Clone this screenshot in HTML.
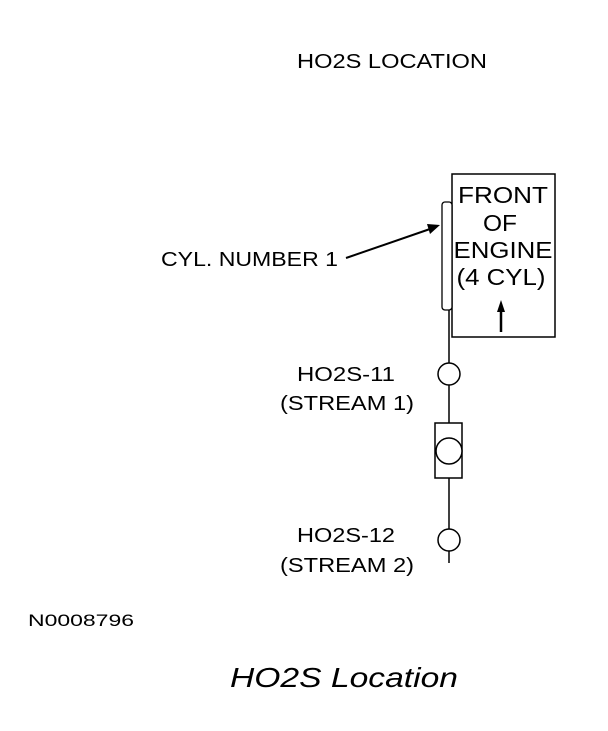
<!DOCTYPE html>
<html><head><style>
body{margin:0;background:#fff;width:608px;height:726px;overflow:hidden}
svg text{font-family:"Liberation Sans",sans-serif;fill:#000}
</style></head><body>
<svg width="608" height="726" viewBox="0 0 608 726">
<text x="297" y="68" font-size="20" textLength="190" lengthAdjust="spacingAndGlyphs">HO2S LOCATION</text>
<rect x="452" y="174" width="103" height="163" fill="none" stroke="#000" stroke-width="1.5"/>
<text x="503" y="203" font-size="23" text-anchor="middle" textLength="90" lengthAdjust="spacingAndGlyphs">FRONT</text>
<text x="500" y="231" font-size="23" text-anchor="middle" textLength="34" lengthAdjust="spacingAndGlyphs">OF</text>
<text x="503" y="258" font-size="23" text-anchor="middle" textLength="99" lengthAdjust="spacingAndGlyphs">ENGINE</text>
<text x="501" y="285" font-size="23" text-anchor="middle" textLength="89" lengthAdjust="spacingAndGlyphs">(4 CYL)</text>
<line x1="501" y1="332" x2="501" y2="310" stroke="#000" stroke-width="2.5"/>
<polygon points="497,312 505,312 501,300" fill="#000"/>
<rect x="442" y="202" width="10" height="108" rx="3" fill="#fff" stroke="#000" stroke-width="1.3"/>
<line x1="449" y1="310" x2="449" y2="563" stroke="#000" stroke-width="1.5"/>
<circle cx="449" cy="374" r="11" fill="#fff" stroke="#000" stroke-width="1.5"/>
<rect x="435" y="423" width="27" height="55" fill="#fff" stroke="#000" stroke-width="1.5"/>
<circle cx="449" cy="451" r="13" fill="#fff" stroke="#000" stroke-width="1.5"/>
<circle cx="449" cy="540" r="11" fill="#fff" stroke="#000" stroke-width="1.5"/>
<text x="161" y="266" font-size="20" textLength="177" lengthAdjust="spacingAndGlyphs">CYL. NUMBER 1</text>
<line x1="346" y1="258" x2="430" y2="229" stroke="#000" stroke-width="2"/>
<polygon points="440,225 427,224 430,234" fill="#000"/>
<text x="297" y="381" font-size="20" textLength="98" lengthAdjust="spacingAndGlyphs">HO2S-11</text>
<text x="280" y="410" font-size="20" textLength="134" lengthAdjust="spacingAndGlyphs">(STREAM 1)</text>
<text x="297" y="542" font-size="20" textLength="98" lengthAdjust="spacingAndGlyphs">HO2S-12</text>
<text x="280" y="572" font-size="20" textLength="134" lengthAdjust="spacingAndGlyphs">(STREAM 2)</text>
<text x="28" y="626" font-size="17" textLength="106" lengthAdjust="spacingAndGlyphs">N0008796</text>
<text x="230" y="687" font-size="28" font-style="italic" textLength="228" lengthAdjust="spacingAndGlyphs">HO2S Location</text>
</svg>
</body></html>
